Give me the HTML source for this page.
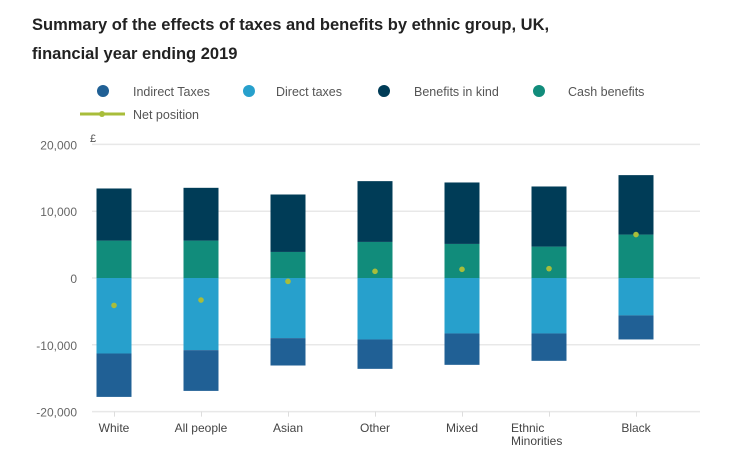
<!DOCTYPE html>
<html><head><meta charset="utf-8"><style>
body{margin:0;width:751px;height:468px;background:#fff;font-family:"Liberation Sans",sans-serif;overflow:hidden;position:relative}
.t{position:absolute;left:32px;font-weight:bold;font-size:16.5px;color:#222}
</style></head><body>
<div class="t" style="top:16px">Summary of the effects of taxes and benefits by ethnic group, UK,</div>
<div class="t" style="top:45px">financial year ending 2019</div>
<svg id="c" width="751" height="468" style="position:absolute;left:0;top:0"></svg>
<script>
const categories=["White","All people","Asian","Other","Mixed","Ethnic Minorities","Black"];
const indirect=[-6500,-6100,-4100,-4400,-4700,-4100,-3600];
const direct=[-11300,-10800,-9000,-9200,-8300,-8300,-5600];
const bik=[7800,7900,8600,9100,9200,9000,8900];
const cash=[5600,5600,3900,5400,5100,4700,6500];
const net=[-4100,-3300,-500,1000,1300,1400,6500];
const ticks=[20000,10000,0,-10000,-20000];
const tickLabels=["20,000","10,000","0","-10,000","-20,000"];
const C={ind:"#206095",dir:"#27a0cc",bik:"#003c57",cash:"#118c7b",net:"#a8bd3a"};
const svg=document.getElementById('c');const NS="http://www.w3.org/2000/svg";
const y=v=>278-v*0.00668;
const x=i=>114+i*87;
function mk(t,a,p){const e=document.createElementNS(NS,t);for(const k in a)e.setAttribute(k,a[k]);(p||svg).appendChild(e);return e;}
ticks.forEach((t,i)=>{
 const g=mk('line',{x1:92,x2:700,y1:y(t),y2:y(t),stroke:'#e8e8e8','stroke-width':1.5});
 
 
 const l=mk('text',{x:77,y:y(t)+5,'text-anchor':'end','font-size':12,fill:'#666'});l.textContent=tickLabels[i];
 
 
});
const cur=mk('text',{x:90,y:142,'font-size':11,fill:'#555'});cur.textContent='£';


function bar(i,v0,v1,col,name){const r=mk('rect',{x:x(i)-17.5,width:35,y:Math.min(y(v0),y(v1)),height:Math.abs(y(v0)-y(v1)),fill:col});
 
 }
categories.forEach((c,i)=>{
 const tk=mk('line',{x1:x(i)+0.5,x2:x(i)+0.5,y1:y(-20000),y2:y(-20000)+5,stroke:'#ddd','stroke-width':1});
 
 
 bar(i,0,cash[i],C.cash,'bar-cash-benefits');
 bar(i,cash[i],cash[i]+bik[i],C.bik,'bar-benefits-in-kind');
 bar(i,0,direct[i],C.dir,'bar-direct-taxes');
 bar(i,direct[i],direct[i]+indirect[i],C.ind,'bar-indirect-taxes');
 const p=mk('circle',{cx:x(i),cy:y(net[i]),r:2.8,fill:C.net});
 
 
 const em=c==="Ethnic Minorities";
 const parts=em?["Ethnic","Minorities"]:[c];
 parts.forEach((s,j)=>{const t=mk('text',{x:em?x(i)-38:x(i),y:432+j*13,'text-anchor':em?'start':'middle','font-size':12,fill:'#444'});t.textContent=s;
 
 });
});
const leg=[["Indirect Taxes",C.ind,103,133],["Direct taxes",C.dir,249,276],["Benefits in kind",C.bik,384,414],["Cash benefits",C.cash,539,568]];
leg.forEach(l=>{const d=mk('circle',{cx:l[2],cy:91,r:6,fill:l[1]});
 
 
 const t=mk('text',{x:l[3],y:96,'font-size':12.5,fill:'#555'});t.textContent=l[0];
 
 });
const nl=mk('line',{x1:80,x2:125,y1:114,y2:114,stroke:C.net,'stroke-width':3});


mk('circle',{cx:102,cy:114,r:3,fill:C.net});
const nt=mk('text',{x:133,y:119,'font-size':12.5,fill:'#555'});nt.textContent='Net position';


</script>
</body></html>
